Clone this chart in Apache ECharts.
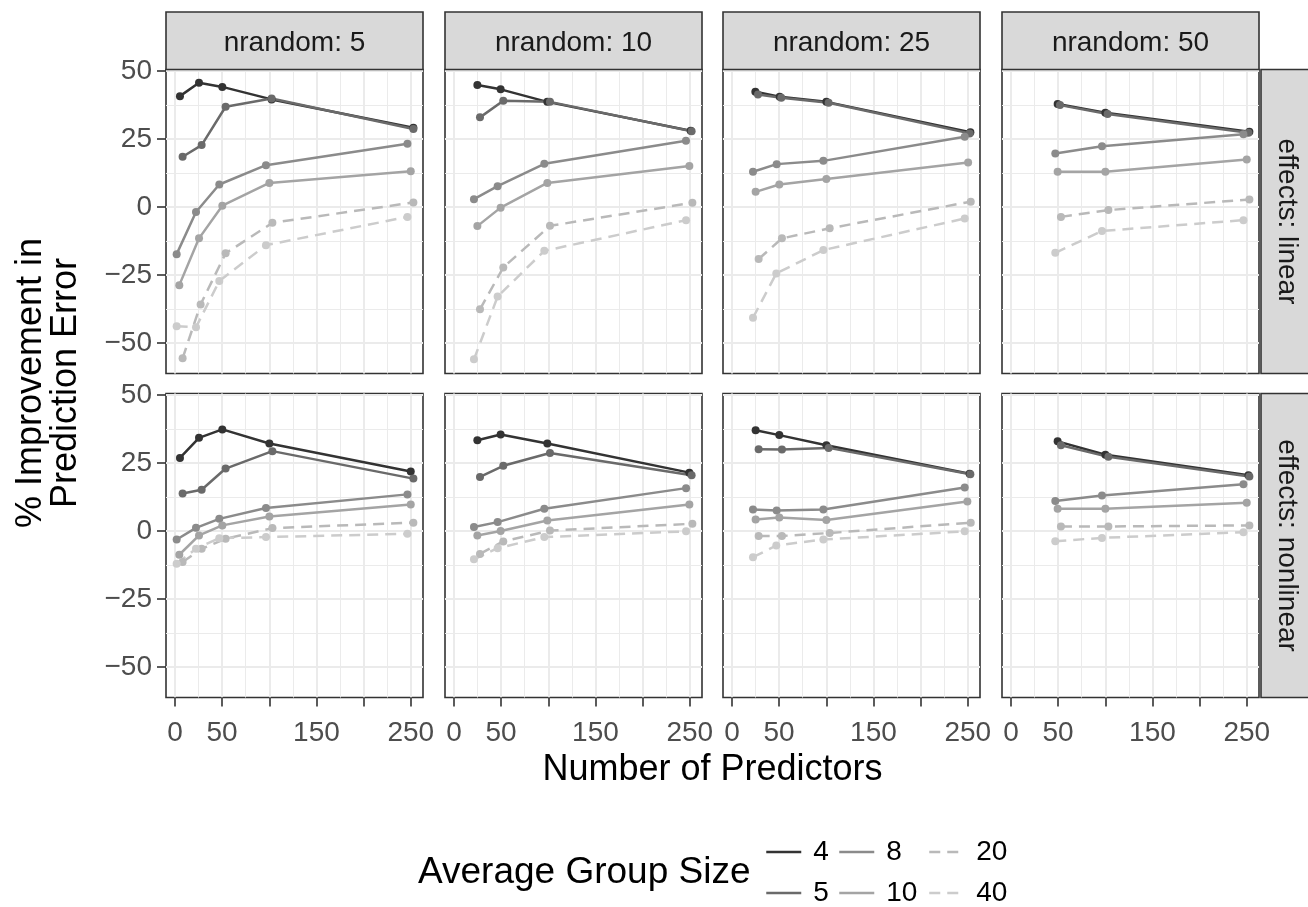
<!DOCTYPE html>
<html><head><meta charset="utf-8">
<script src="https://cdn.jsdelivr.net/npm/echarts@6/dist/echarts.min.js"></script>
<style>html,body{margin:0;padding:0;background:#fff}#chart{width:1308px;height:907px}</style>
</head><body><div id="chart"></div>
<script>
// ---- categories / ticks ----
const groupSizes = ['4','5','8','10','20','40'];
const nrandomLevels = [5,10,25,50];
const effectsLevels = ['linear','nonlinear'];
const xTickValues = [0,50,100,150,200,250];
const xLabelValues = [0,50,150,250];
const xMinorValues = [25,75,125,175,225];
const yTickValues = [-50,-25,0,25,50];
const yMinorValues = [-37.5,-12.5,12.5,37.5];

// ---- data: [number of predictors (as drawn, dodged), % improvement] per group size ----
const linear_nr5 = [
  [[5.3,40.8],[25.5,45.7],[50.2,44.2],[102.5,39.6],[252.8,29.2]],
  [[8.1,18.5],[28.3,22.8],[53.7,36.9],[102.5,39.9],[252.8,28.7]],
  [[1.8,-17.3],[22.3,-1.8],[47.0,8.3],[96.5,15.4],[246.5,23.3]],
  [[4.6,-28.7],[25.5,-11.5],[50.2,0.5],[100.1,8.9],[250,13.2]],
  [[8.1,-55.6],[27.2,-35.8],[53.7,-17.0],[103.3,-5.8],[252.8,1.7]],
  [[1.8,-43.8],[22.3,-44.2],[47.0,-27.2],[96.5,-14.0],[246.5,-3.6]]
];
const linear_nr10 = [
  [[24.8,44.9],[49.5,43.3],[99.0,38.7],[251,28.1]],
  [[27.6,33.0],[52.3,39.1],[101.8,38.7],[252,27.9]],
  [[21.2,2.9],[46.3,7.7],[95.8,15.9],[246,24.4]],
  [[24.8,-7.0],[49.5,-0.2],[99.0,8.9],[249.6,15.1]],
  [[27.6,-37.6],[52.3,-22.2],[101.8,-6.9],[252.8,1.6]],
  [[21.2,-56.0],[46.3,-32.9],[95.8,-16.1],[246.1,-4.8]]
];
const linear_nr25 = [
  [[24.8,42.4],[50.6,40.6],[100.1,38.7],[252.8,27.5]],
  [[27.6,41.4],[52.3,40.2],[102.5,38.4],[252,27.1]],
  [[22.3,13.0],[47.4,15.8],[96.9,17.0],[246.8,25.9]],
  [[25.1,5.6],[50.2,8.3],[100.1,10.3],[250.4,16.4]],
  [[28.3,-19.1],[53.0,-11.5],[103.6,-7.8],[253.2,2.0]],
  [[22.3,-40.7],[47.0,-24.4],[96.9,-15.8],[246.8,-4.2]]
];
const linear_nr50 = [
  [[49.5,37.9],[100.1,34.7],[252.8,27.7]],
  [[52,37.5],[102.5,34.2],[251.8,27.3]],
  [[47.0,19.7],[96.5,22.4],[246.5,26.8]],
  [[49.5,13.0],[100.1,13.0],[250,17.5]],
  [[53,-3.6],[103.3,-1.1],[252.8,2.8]],
  [[47,-16.8],[96.5,-8.8],[246.5,-4.8]]
];
const nonlinear_nr5 = [
  [[5.3,26.9],[25.5,34.3],[50.2,37.4],[100.1,32.2],[250,21.9]],
  [[8.1,13.8],[28.3,15.2],[53.7,23.0],[103.3,29.4],[252.8,19.3]],
  [[1.8,-3.1],[22.3,1.2],[47.0,4.5],[96.5,8.5],[246.5,13.5]],
  [[4.6,-8.7],[25.5,-1.6],[50.2,2.1],[100.1,5.4],[250,9.8]],
  [[8.1,-11.4],[28.3,-6.5],[53.7,-2.8],[103.3,1.1],[252.8,3.1]],
  [[1.8,-12.0],[22.3,-6.5],[47.0,-2.6],[96.5,-2.2],[246.5,-1.0]]
];
const nonlinear_nr10 = [
  [[24.8,33.4],[49.5,35.5],[99.0,32.2],[249.6,21.5]],
  [[27.6,19.9],[52.3,24.0],[101.8,28.7],[252,20.5]],
  [[21.2,1.5],[46.3,3.3],[95.8,8.2],[246.1,15.8]],
  [[24.8,-1.6],[49.5,0],[99.0,3.9],[249.6,9.8]],
  [[27.6,-8.4],[52.3,-3.8],[101.8,0.2],[252.8,2.7]],
  [[21.2,-10.4],[46.3,-6.3],[95.8,-2.2],[246.1,-0.1]]
];
const nonlinear_nr25 = [
  [[25.1,37.1],[50.2,35.3],[100.1,31.6],[252,21.1]],
  [[28.3,30.1],[53.0,30.0],[102.5,30.6],[252.8,20.9]],
  [[22.3,7.9],[47.4,7.6],[96.9,7.9],[246.8,16.0]],
  [[25.1,4.3],[50.2,5.0],[100.1,4.1],[249.6,10.9]],
  [[28.3,-1.8],[53.0,-1.8],[103.6,-0.7],[253.2,3.1]],
  [[22.3,-9.6],[47.0,-5.3],[96.9,-3.1],[246.8,-0.1]]
];
const nonlinear_nr50 = [
  [[49.5,33.0],[100.1,28.1],[251.8,20.5]],
  [[53,31.6],[103.3,27.3],[252.8,20.1]],
  [[47,11.1],[96.5,13.1],[246.5,17.2]],
  [[49.5,8.2],[100.1,8.2],[250,10.4]],
  [[53,1.7],[103.3,1.7],[252.8,2.1]],
  [[47,-3.7],[96.5,-2.5],[246.5,-0.4]]
];
const panelData = [
  [linear_nr5, linear_nr10, linear_nr25, linear_nr50],
  [nonlinear_nr5, nonlinear_nr10, nonlinear_nr25, nonlinear_nr50]
];

// ---- styles / layout ----
const FONT = 'Liberation Sans, Arial, Helvetica, sans-serif';
const colors = ['#333333','#6A6A6A','#8B8B8B','#A4A4A4','#B9B9B9','#CCCCCC'];
const dashed = [false,false,false,false,true,true];
const L = [166,445,723,1002], W = 257, T = [69.5,393.5], H = 304;
const XMIN = -9.5, XMAX = 263, YMIN = -61.2, YMAX = 50.6;
const LINE_W = 2.5;

const grids = [], xAxes = [], yAxes = [], series = [], graphics = [];
for (let r = 0; r < 2; r++) {
  for (let c = 0; c < 4; c++) {
    const gi = r*4 + c;
    grids.push({left:L[c], top:T[r], width:W, height:H, show:true, backgroundColor:'#fff',
      borderColor:'#333333', borderWidth:1.6, containLabel:false, outerBoundsMode:'none'});
    xAxes.push({type:'value', gridIndex:gi, min:XMIN, max:XMAX, position:'bottom',
      axisLine:{show:false, onZero:false},
      axisTick:{show:r===1, length:9, customValues:xTickValues, lineStyle:{color:'#333333', width:1.6}},
      axisLabel:{show:r===1, customValues:xLabelValues, color:'#4D4D4D', fontSize:28, fontFamily:FONT, margin:22},
      splitLine:{show:true, lineStyle:{color:'#EBEBEB', width:2}}});
    xAxes.push({type:'value', gridIndex:gi, min:XMIN, max:XMAX, position:'bottom',
      axisLine:{show:false, onZero:false}, axisTick:{show:false, customValues:xMinorValues},
      axisLabel:{show:false}, splitLine:{show:true, lineStyle:{color:'#EBEBEB', width:1}}});
    yAxes.push({type:'value', gridIndex:gi, min:YMIN, max:YMAX, position:'left',
      axisLine:{show:false, onZero:false},
      axisTick:{show:c===0, length:9, customValues:yTickValues, lineStyle:{color:'#333333', width:1.6}},
      axisLabel:{show:c===0, customValues:yTickValues, color:'#4D4D4D', fontSize:28, fontFamily:FONT, margin:14,
        formatter: v => String(v).replace('-', '\u2212')},
      splitLine:{show:true, lineStyle:{color:'#EBEBEB', width:2}}});
    yAxes.push({type:'value', gridIndex:gi, min:YMIN, max:YMAX, position:'left',
      axisLine:{show:false, onZero:false}, axisTick:{show:false, customValues:yMinorValues},
      axisLabel:{show:false}, splitLine:{show:true, lineStyle:{color:'#EBEBEB', width:1}}});
    const pd = panelData[r][c];
    groupSizes.forEach((g, k) => {
      series.push({type:'line', name:g, xAxisIndex:2*gi, yAxisIndex:2*gi, data:pd[k],
        symbol:'circle', symbolSize:8, showSymbol:true, clip:false,
        lineStyle:{color:colors[k], width:LINE_W, type: dashed[k] ? [11,7] : 'solid'},
        itemStyle:{color:colors[k], borderWidth:0},
        emphasis:{disabled:true}, z: 2});
    });
  }
}

// strips (top)
nrandomLevels.forEach((n, c) => {
  graphics.push({type:'rect', shape:{x:L[c], y:12, width:W, height:57.5},
    style:{fill:'#D9D9D9', stroke:'#333333', lineWidth:1.6}, z:10});
  graphics.push({type:'text', x:L[c]+W/2, y:43, style:{text:'nrandom: '+n, fill:'#1A1A1A',
    font:'28px '+FONT, textAlign:'center', textVerticalAlign:'middle'}, z:11});
});
// strips (right)
effectsLevels.forEach((e, r) => {
  graphics.push({type:'rect', shape:{x:1261, y:T[r], width:60, height:H},
    style:{fill:'#D9D9D9', stroke:'#333333', lineWidth:1.6}, z:10});
  graphics.push({type:'text', x:1287, y:T[r]+H/2, rotation:-Math.PI/2, style:{text:'effects: '+e, fill:'#1A1A1A',
    font:'28px '+FONT, textAlign:'center', textVerticalAlign:'middle'}, z:11});
});
// axis titles
graphics.push({type:'text', x:712.5, y:770, style:{text:'Number of Predictors', fill:'#000',
  font:'36px '+FONT, textAlign:'center', textVerticalAlign:'middle'}});
graphics.push({type:'text', x:49, y:383, rotation:Math.PI/2, style:{text:'% Improvement in\nPrediction Error', fill:'#000',
  font:'36px '+FONT, lineHeight:35, textAlign:'center', textVerticalAlign:'middle'}});
// legend title
graphics.push({type:'text', x:418, y:873, style:{text:'Average Group Size', fill:'#000',
  font:'37px '+FONT, textAlign:'left', textVerticalAlign:'middle'}});

// legend: one single-item legend per key, laid out in 2 rows x 3 columns
const legendLayout = [[0,0],[0,1],[1,0],[1,1],[2,0],[2,1]]; // [column,row] for each group size
const legendLefts = [765, 838, 928];
const legendRowCenters = [852, 893];
const legends = groupSizes.map((g, i) => ({
  left: legendLefts[legendLayout[i][0]], top: legendRowCenters[legendLayout[i][1]] - 15,
  orient:'horizontal', itemWidth:35, itemHeight:14,
  data: [g], padding:0, itemStyle:{opacity:0}, lineStyle:{width:LINE_W},
  textStyle:{fontSize:28, color:'#000', fontFamily:FONT, lineHeight:30, padding:[0,0,0,7]}
}));

const chart = echarts.init(document.getElementById('chart'), null, {renderer:'canvas'});
chart.setOption({
  animation:false, backgroundColor:'#fff',
  grid:grids, xAxis:xAxes, yAxis:yAxes, series:series, legend:legends, graphic:graphics,
  textStyle:{fontFamily:FONT}
});
</script></body></html>
